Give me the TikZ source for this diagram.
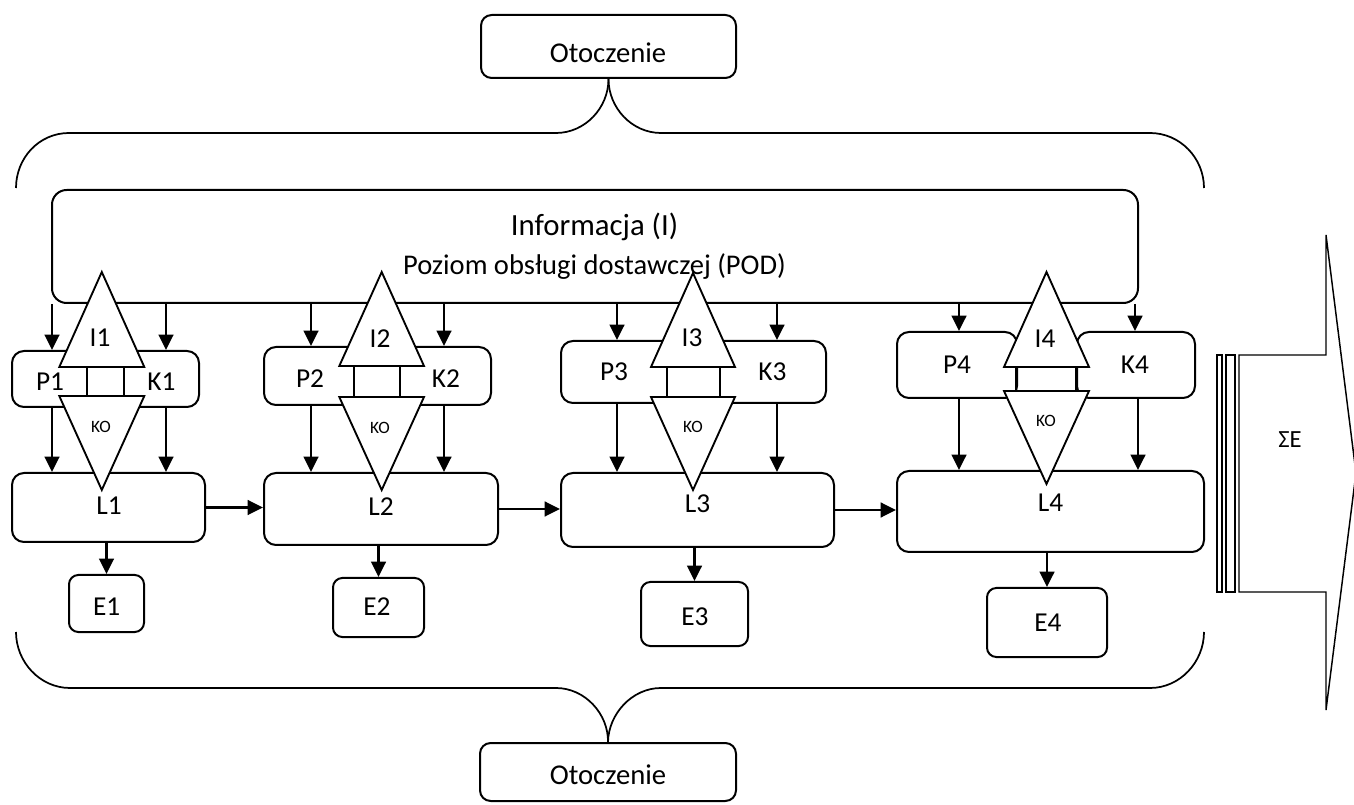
\documentclass[tikz,border=0pt]{standalone}
\usepackage{fontspec}
\setmainfont{Carlito}
\usetikzlibrary{fit,arrows.meta}
\begin{document}
\begin{tikzpicture}[x=0.75pt,y=-0.75pt,
  box/.style={draw,line width=1.5pt,rounded corners=9pt,inner sep=0pt},
  ebox/.style={box,rounded corners=7pt},
  lbl/.style={font=\fontsize{20.5}{24}\selectfont,inner sep=0pt},
  kolbl/.style={font=\fontsize{13}{16}\selectfont,inner sep=0pt},
  arr/.style={line width=1.8pt,-{Triangle[length=11.5pt,width=11pt]}},
  tri/.style={draw,line width=1.4pt,fill=white,line join=miter},
  tie/.style={line width=1.4pt},
  brace/.style={line width=1.3pt},
  thinline/.style={line width=1.1pt},
]
\useasboundingbox (0,0) rectangle (1354,805);

% Otoczenie boxes
\node[box,rounded corners=8pt,fit={(481,15)(736,78)}] (ot1) {};
\node[font=\fontsize{21.5}{25}\selectfont,inner sep=0pt] (ot1t) at (608,53) {Otoczenie};
\node[box,rounded corners=8pt,fit={(480,743)(736,801)}] (ot2) {};
\node[font=\fontsize{21.5}{25}\selectfont,inner sep=0pt] (ot2t) at (608,775) {Otoczenie};

% braces
\draw[brace] (16,188) .. controls (16,158) and (39,133) .. (69,133) -- (556,133)
  .. controls (585,133) and (608.5,108) .. (ot1.south);
\draw[brace] (ot1.south) .. controls (608.5,108) and (632,133) .. (661,133) -- (1150,133)
  .. controls (1180,133) and (1204,158) .. (1204,188);
\draw[brace] (16,632) .. controls (16,662) and (40,688) .. (70,688) -- (556,688)
  .. controls (585,688) and (608.5,714) .. (ot2.north);
\draw[brace] (ot2.north) .. controls (608.5,714) and (632,688) .. (661,688) -- (1150,688)
  .. controls (1180,688) and (1204,662) .. (1204,632);

% information box
\node[box,rounded corners=11pt,fit={(52,190)(1138,303)}] (info) {};
\node[font=\fontsize{23.1}{28}\selectfont,anchor=base,inner sep=0pt] (infot) at (594.5,236) {Informacja (I)};
\node[font=\fontsize{21.4}{26}\selectfont,anchor=base,inner sep=0pt] (podt) at (594.5,275) {Poziom obsługi dostawczej (POD)};

% P/K boxes
\node[box,fit={(12,351)(199,407)}] (PK1) {};
\node[box,fit={(264,347)(491,405)}] (PK2) {};
\node[box,fit={(561,341)(826,403)}] (PK3) {};
\node[box,fit={(897,332)(1017,398)}] (P4) {};
\node[box,fit={(1077,332)(1195,398)}] (K4) {};

% L boxes
\node[box,fit={(12,473)(205,542)}] (L1) {};
\node[box,fit={(264,473)(498,545)}] (L2) {};
\node[box,fit={(561,473)(834,547)}] (L3) {};
\node[box,fit={(897,471)(1204,552)}] (L4) {};

% E boxes
\node[ebox,fit={(69,575)(144,632)}] (E1) {};
\node[ebox,fit={(333,578)(424,637)}] (E2) {};
\node[ebox,fit={(641,582)(748,646)}] (E3) {};
\node[ebox,fit={(987,588)(1107,657)}] (E4) {};

% ties between triangles
\draw[tie] (86.7,367) -- (86.7,396) (124.3,367) -- (124.3,396);
\draw[tie] (354.3,366) -- (354.3,397) (400,366) -- (400,397);
\draw[tie] (666.7,367) -- (666.7,397) (720,367) -- (720,397);
\draw[tie] (1016,367) -- (1016,391) (1076,367) -- (1076,391);

% triangles
\draw[tri] (59.3,367) -- (101.8,272) -- (144.3,367) -- cycle;
\draw[tri] (59.3,396) -- (144.3,396) -- (101.8,490) -- cycle;
\draw[tri] (339.3,366) -- (381.7,272) -- (424,366) -- cycle;
\draw[tri] (339.3,397) -- (424,397) -- (381.7,490) -- cycle;
\draw[tri] (651,367) -- (693,273) -- (735,367) -- cycle;
\draw[tri] (651,397) -- (735,397) -- (693,490) -- cycle;
\draw[tri] (1004,367) -- (1046.5,272) -- (1089,367) -- cycle;
\draw[tri] (1004,391) -- (1089,391) -- (1046.5,484) -- cycle;

% labels
\node[lbl] (p1) at (50,382) {P1};
\node[lbl] (k1) at (161.5,382) {K1};
\node[lbl] (p2) at (310,379) {P2};
\node[lbl] (k2) at (446,379) {K2};
\node[lbl] (p3) at (614,372) {P3};
\node[lbl] (k3) at (772.5,372) {K3};
\node[lbl] (p4) at (957,365) {P4};
\node[lbl] (k4) at (1135,365) {K4};
\node[lbl] (i1) at (100,337.5) {I1};
\node[lbl] (i2) at (380,339) {I2};
\node[lbl] (i3) at (692,338) {I3};
\node[lbl] (i4) at (1045,339) {I4};
\node[kolbl] (ko1) at (101,427) {KO};
\node[kolbl] (ko2) at (380,428) {KO};
\node[kolbl] (ko3) at (693,427) {KO};
\node[kolbl] (ko4) at (1046,421) {KO};
\node[lbl] (l1) at (109,505.7) {L1};
\node[lbl] (l2) at (381,506.5) {L2};
\node[lbl] (l3) at (697.5,504) {L3};
\node[lbl] (l4) at (1050.5,503) {L4};
\node[lbl] (e1) at (106.7,606.7) {E1};
\node[lbl] (e2) at (377,607) {E2};
\node[lbl] (e3) at (695,617) {E3};
\node[lbl] (e4) at (1048,623) {E4};

% arrow x positions
\coordinate (c1a) at (52,0);
\coordinate (c1b) at (166,0);
\coordinate (c2a) at (311,0);
\coordinate (c2b) at (444,0);
\coordinate (c3a) at (617,0);
\coordinate (c3b) at (777,0);
\coordinate (c4a) at (959,0);
\coordinate (c4b) at (1135,0);
\coordinate (c4c) at (1138,0);

% information -> P/K
\draw[arr] (c1a |- info.south) -- (c1a |- PK1.north);
\draw[arr] (c1b |- info.south) -- (c1b |- PK1.north);
\draw[arr] (c2a |- info.south) -- (c2a |- PK2.north);
\draw[arr] (c2b |- info.south) -- (c2b |- PK2.north);
\draw[arr] (c3a |- info.south) -- (c3a |- PK3.north);
\draw[arr] (c3b |- info.south) -- (c3b |- PK3.north);
\draw[arr] (c4a |- info.south) -- (c4a |- P4.north);
\draw[arr] (c4b |- info.south) -- (c4b |- K4.north);

% P/K -> L
\draw[arr] (c1a |- PK1.south) -- (c1a |- L1.north);
\draw[arr] (c1b |- PK1.south) -- (c1b |- L1.north);
\draw[arr] (c2a |- PK2.south) -- (c2a |- L2.north);
\draw[arr] (c2b |- PK2.south) -- (c2b |- L2.north);
\draw[arr] (c3a |- PK3.south) -- (c3a |- L3.north);
\draw[arr] (c3b |- PK3.south) -- (c3b |- L3.north);
\draw[arr] (c4a |- P4.south) -- (c4a |- L4.north);
\draw[arr] (c4c |- K4.south) -- (c4c |- L4.north);

% L -> L
\draw[arr] (L1.east) -- (L1.east -| L2.west);
\draw[arr] (L2.east) -- (L2.east -| L3.west);
\draw[arr] (L3.east) -- (L3.east -| L4.west);

% L -> E
\draw[arr] (L1.south -| E1.north) -- (E1.north);
\draw[arr] (L2.south -| E2.north) -- (E2.north);
\draw[arr] (L3.south -| E3.north) -- (E3.north);
\draw[arr] (L4.south -| E4.north) -- (E4.north);

% sum arrow
\draw[thinline] (1217,355) rectangle (1222,592);
\draw[thinline] (1226,355) rectangle (1235,592);
\draw[thinline,line join=miter] (1239,355) -- (1326,355) -- (1326,235) -- (1356,473)
  -- (1326,710) -- (1326,592) -- (1239,592) -- cycle;
\node[font=\fontsize{18.5}{22}\selectfont,inner sep=0pt] (sumE) at (1290,440) {ΣE};
\end{tikzpicture}
\end{document}
